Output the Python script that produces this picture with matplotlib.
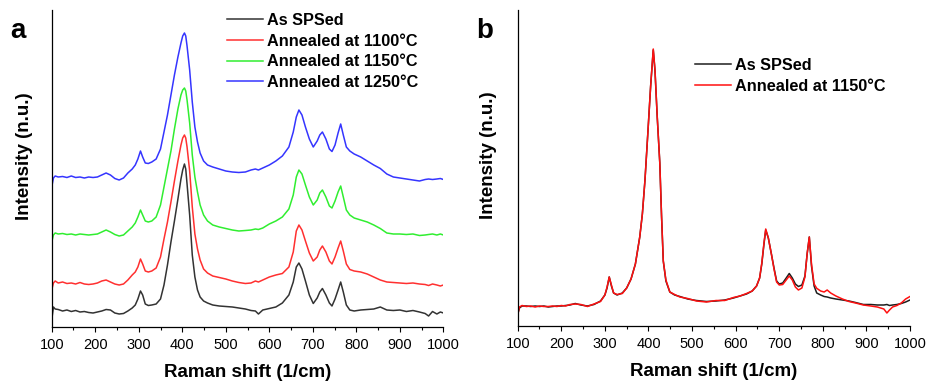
import numpy as np
import matplotlib
matplotlib.use("Agg")
import matplotlib.pyplot as plt
from matplotlib.ticker import MultipleLocator

plt.rcParams['font.family'] = ['Liberation Sans', 'DejaVu Sans']

# painel a: deslocamento Raman comum às quatro curvas
x_a = [100, 104, 108, 115, 125, 135, 145, 155, 165, 175,
       185, 195, 205, 215, 225, 235, 245, 255, 265, 275,
       285, 292, 298, 304, 309, 315, 322, 330, 340, 350,
       358, 366, 374, 382, 390, 397, 401, 405, 408, 411, 417, 423,
       429, 435, 441, 449, 458, 470, 485, 500, 515, 530,
       545, 558, 568, 575, 585, 600, 615, 630, 645, 655,
       662, 668, 675, 683, 692, 701, 710, 716, 722, 730,
       738, 744, 751, 758, 764, 770, 777, 785, 795, 810,
       825, 840, 855, 870, 885, 900, 915, 930, 945, 958,
       966, 975, 985, 993, 1000]

as_sps_a = [7, 20, 18, 17.5, 16, 17, 15.5, 16.5, 15, 15.5,
            14.5, 14, 15, 16, 17.5, 17, 14, 13, 13.5, 16,
            19, 22, 28, 36, 32, 23, 21.5, 22, 23, 28,
            42, 62, 85, 106, 128, 148, 157, 163, 158, 143, 112, 72,
            50, 37, 30, 26, 24, 22, 21, 20.5, 20, 19,
            18, 16.5, 16, 13, 17, 18.5, 20, 24, 32, 45,
            60, 64, 58, 46, 32, 23.5, 29, 35, 38.5, 32,
            24, 21, 28, 37, 45, 35, 22, 17, 16, 17,
            17.5, 18, 20, 17, 16.5, 17, 15.5, 16.5, 15, 13.5,
            11, 15.5, 13, 15, 14]

ann1100_a = [37, 44, 46, 44, 45, 43.5, 44, 43, 44.5, 43,
             42.5, 43, 44, 46, 47, 45, 43, 42, 43, 47,
             52, 55, 60, 68, 63, 56, 55, 56, 59, 70,
             88, 105, 125, 146, 166, 182, 189, 192, 189, 180, 156, 120,
             93, 78, 67, 58, 54, 51, 49.5, 48, 46, 44.5,
             43.5, 44, 46, 45, 47, 50, 52, 53.5, 60, 75,
             96, 102, 97, 86, 74, 66, 70, 77, 81, 75,
             66, 63, 70, 79, 86, 76, 63, 57.5, 56, 55,
             53, 50, 47, 45, 44.5, 44, 43.5, 44, 43, 42.5,
             41.5, 43, 42, 41, 42]

ann1150_a = [85, 92, 94, 93, 93.5, 92.5, 93, 92, 93, 92.5,
             92, 92.5, 93, 95, 97, 95, 92.5, 91, 92, 96,
             100, 104, 110, 117, 112, 106, 105, 106, 110, 122,
             140, 158, 176, 198, 218, 232, 237, 239, 236, 227, 204, 172,
             150, 135, 122, 112, 106, 102, 100, 98.5, 97, 96,
             96.5, 97, 98, 97.5, 99, 103, 106, 110, 118, 132,
             150, 157, 153, 142, 130, 122, 127, 134, 137, 130,
             121, 119, 126, 135, 141, 130, 117, 112, 109, 107,
             105, 102, 98.5, 94, 93, 93, 92.5, 93, 91.5, 92,
             92.5, 93, 92, 93, 92]

ann1250_a = [140, 149, 151, 150, 150.5, 149.5, 151, 149.5, 150, 149,
             150, 149.5, 150, 152, 154, 152, 148.5, 147, 149, 154,
             158, 162, 168, 176, 170, 164, 163.5, 165, 168, 178,
             195, 212, 232, 252, 270, 284, 291, 294, 291, 281, 257, 225,
             200, 185, 174, 166, 162, 160, 158, 156, 155, 154.5,
             155, 157, 158, 157, 159, 162, 166, 171, 180, 195,
             210, 217, 212, 200, 188, 180, 186, 192, 195, 188,
             178, 175.5, 182, 194, 203, 192, 180, 176, 173, 170,
             166, 162, 158.5, 153, 150, 149, 148, 147, 146, 147.5,
             148, 147.5, 148, 148.5, 147.5]

labels_a = ['As SPSed', 'Annealed at 1100°C', 'Annealed at 1150°C', 'Annealed at 1250°C']

# painel b
x_b = [100, 104, 110, 120, 130, 140, 150, 160, 170, 180,
       190, 200, 210, 220, 232, 245, 260, 275, 290, 300,
       305, 310, 315, 320, 328, 340, 350, 360, 370, 380,
       386, 392, 399, 405, 411, 415, 420, 426, 430, 434,
       440, 449, 460, 472, 490, 510, 533, 555, 575, 595,
       610, 625, 638, 648, 655, 660, 665, 669, 675, 682,
       688, 694, 700, 708, 716, 723, 730, 737, 744, 752,
       759, 764, 769, 774, 780, 786, 795, 803, 810, 818,
       830, 845, 860, 875, 893, 910, 925, 940, 947, 953,
       960, 970, 980, 990, 1000]

as_sps_b = [12, 18, 20, 20, 19.5, 20, 19.5, 20, 19, 19.5,
            20, 20, 20.5, 21, 22.5, 21, 20, 21.5, 25, 31,
            38, 49, 40, 33, 31, 33, 38, 47, 62, 89,
            112, 146, 196, 240, 276, 255, 210, 163, 110, 65,
            45, 34, 31, 29.5, 27, 25.5, 24.5, 25, 26, 28,
            30, 32, 35, 40, 48, 62, 82, 96, 88, 72,
            58, 45, 42, 43, 48, 52.5, 48, 42, 39.5, 41,
            50, 72, 89, 60, 40, 33, 31, 29.5, 29, 28,
            27, 26, 25, 23.5, 21.5, 21.5, 21, 21, 21.5, 20.5,
            21, 21.5, 22.5, 24, 26]

ann1150_b = [11, 19, 20.5, 19.5, 20, 19, 20, 19.5, 19.5, 20,
             19.5, 20.5, 20, 21.5, 22, 21.5, 19.5, 22, 24.5, 31,
             39, 49, 41, 33, 31.5, 32.5, 38, 47, 62, 89,
             112, 146, 196, 240, 277, 256, 210, 163, 110, 65,
             46, 34, 31.5, 29, 27.5, 25, 24, 25.5, 25.5, 28.5,
             30, 32.5, 35, 40, 48, 63, 83, 97, 88, 72,
             57, 44, 41, 41.5, 46, 50, 46, 39, 36, 38,
             49, 72, 89, 62, 42, 37.7, 35, 34, 36, 33,
             30, 27, 24.5, 23, 21, 20, 19, 17, 13, 16,
             19, 20.5, 23, 27, 29.5]

labels_b = ['As SPSed', 'Annealed at 1150°C']

cores_a = ['#333333', '#ff3030', '#30ee30', '#3535ff']
cores_b = ['#1e1e1e', '#ff1010']

fig = plt.figure(figsize=(9.3, 3.85), dpi=100)
ax1 = fig.add_axes([51.7/930, 1-327/385, 391.7/930, 317/385])
ax2 = fig.add_axes([517.7/930, 1-326/385, 392.3/930, 316/385])

for y, c, lab in zip([as_sps_a, ann1100_a, ann1150_a, ann1250_a], cores_a, labels_a):
    ax1.plot(x_a, y, color=c, lw=1.1, label=lab)
for y, c, lab in zip([as_sps_b, ann1150_b], cores_b, labels_b):
    ax2.plot(x_b, y, color=c, lw=1.1, label=lab)

ax1.set_ylim(0, 317)
ax2.set_ylim(0, 316)

for ax in (ax1, ax2):
    ax.set_xlim(100, 1000)
    ax.set_yticks([])
    ax.spines['top'].set_visible(False)
    ax.spines['right'].set_visible(False)
    ax.spines['left'].set_linewidth(0.9)
    ax.spines['bottom'].set_linewidth(0.9)
    ax.xaxis.set_major_locator(MultipleLocator(100))
    ax.xaxis.set_minor_locator(MultipleLocator(50))
    ax.tick_params(axis='x', which='major', direction='out', length=3.8, width=0.8, pad=4, labelsize=10.5)
    ax.tick_params(axis='x', which='minor', direction='out', length=2.2, width=0.8)
    ax.set_xlabel('Raman shift (1/cm)', fontsize=13.5, fontweight='bold')
    ax.set_ylabel('Intensity (n.u.)', fontsize=13.5, fontweight='bold')
    ax.xaxis.set_label_coords(0.5, -0.118)

ax1.yaxis.set_label_coords(-0.048, 0.54)
ax2.yaxis.set_label_coords(-0.052, 0.54)

leg_kw = dict(frameon=False, fontsize=11.7, handlelength=2.2, handletextpad=0.3,
              labelspacing=0.34, borderpad=0, borderaxespad=0, loc='upper left')
l1 = ax1.legend(bbox_to_anchor=(0.447, 0.99), **leg_kw)
l2 = ax2.legend(bbox_to_anchor=(0.4515, 0.848), **leg_kw)
for leg in (l1, l2):
    for t in leg.get_texts():
        t.set_fontweight('bold')

fig.text(10/930, 1-38.3/385, 'a', fontsize=20, fontweight='bold', va='baseline')
fig.text(476.7/930, 1-38.3/385, 'b', fontsize=20, fontweight='bold', va='baseline')

fig.savefig('out.png', dpi=100)
